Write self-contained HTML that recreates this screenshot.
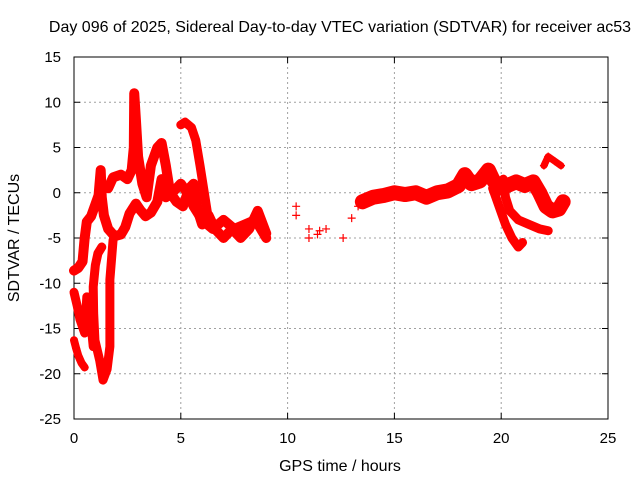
<!DOCTYPE html>
<html><head><meta charset="utf-8"><style>
body{margin:0;background:#fff;}
svg{display:block;font-family:"Liberation Sans",sans-serif;}
</style></head><body>
<svg id="chart" width="640" height="480">
<text x="340" y="32" font-size="16" text-anchor="middle">Day 096 of 2025, Sidereal Day-to-day VTEC variation (SDTVAR) for receiver ac53</text>
<text x="340" y="471" font-size="16" text-anchor="middle">GPS time / hours</text>
<text transform="translate(19,238) rotate(-90)" font-size="16" text-anchor="middle">SDTVAR / TECUs</text>
<g id="grid"></g>
<g id="axes"></g>
<g id="marks"></g>
</svg>
<script>
const xTicks=[0,5,10,15,20,25];
const yTicks=[15,10,5,0,-5,-10,-15,-20,-25];
const t1Hours=[0,0.2,0.4,0.5,0.6,0.8,1.0,1.15,1.25,1.3,1.4,1.6,1.9,2.2,2.4,2.6,2.9,3.1,3.35,3.6,3.9,4.1,4.3,4.6,5.0,5.3,5.6,6.0,6.5,7.0,7.5,8.0,8.5,9.0];
const t1Vals=[-8.6,-8.3,-7.6,-5,-3.2,-2.6,-1.3,-0.3,2.5,-0.5,-2.5,-4,-4.8,-4.6,-3.8,-2.3,-1.2,-1.9,-2.6,-2.2,-1,1.5,-0.5,0,1,0,-1.5,-3,-4,-3,-4,-3.5,-3,-5];
const t2Hours=[1.6,1.83,2.2,2.5,2.7,2.8,2.82,2.9,3.0,3.2,3.4,3.6,3.9,4.1,4.3,4.5,4.8,5.1,5.4,5.6,5.8,6.0,6.3,6.6,7.0,7.4,7.8,8.2,8.6,9.0];
const t2Vals=[0.5,1.7,2,1.5,2.5,5,11,8,4,1,-0.5,3,5,5.5,3,0,-1,-1.5,0.5,1,-2,-3.5,-2.5,-4,-5,-4,-5,-4,-2,-4.5];
const t3Hours=[5.0,5.2,5.5,5.7,5.9,6.1,6.3];
const t3Vals=[7.5,7.8,7.2,5.8,3,0,-3];
const t4Hours=[1.83,1.68,1.68,1.55,1.36,1.2,0.98,0.92,0.9,1.0,1.12,1.3];
const t4Vals=[-5.2,-9.6,-17,-19.5,-20.7,-18.5,-16.3,-13.3,-10.4,-8,-6.7,-6];
const t5Hours=[0,0.15,0.28,0.5,0.6,0.75,0.9];
const t5Vals=[-11,-12.5,-14,-15.5,-11.5,-13.3,-17];
const t6Hours=[0,0.1,0.2,0.35,0.5];
const t6Vals=[-16.3,-17.2,-18,-18.8,-19.3];
const t7Hours=[13.5,14,14.5,15,15.5,16,16.5,17,17.5,18,18.3,18.6,19,19.4,19.6,19.9,20.3,20.7,21.1,21.5,21.8,22.1,22.4,22.7,22.9];
const t7Vals=[-1,-0.5,-0.3,0,-0.2,0,-0.5,0,0.2,0.8,2,1,1.3,2.5,1.5,0.5,0.8,1.2,0.8,1.2,0,-1.5,-2,-1.8,-1];
const t8Hours=[19.6,19.9,20.2,20.5,20.8,21.0];
const t8Vals=[0.5,-1.5,-3.5,-5,-6,-5.5];
const t9Hours=[20.1,20.2,20.4,20.8,21.3,21.8,22.2];
const t9Vals=[1.5,-0.5,-2,-3,-3.5,-4,-4.2];
const t10Hours=[22.0,22.2,22.5,22.8];
const t10Vals=[3,4,3.5,3];
const t11Hours=[10.4,10.4,11.0,11.0,11.4,11.5,11.8,12.6,13.0,13.3];
const t11Vals=[-1.5,-2.5,-4,-5,-4.6,-4.2,-4,-5,-2.8,-1.5];
const tracks=[[t1Hours,t1Vals,10],[t2Hours,t2Vals,10],[t3Hours,t3Vals,9],[t4Hours,t4Vals,9],[t5Hours,t5Vals,9],[t6Hours,t6Vals,8],[t7Hours,t7Vals,15],[t8Hours,t8Vals,9],[t9Hours,t9Vals,9],[t10Hours,t10Vals,7],[t11Hours,t11Vals,0]];
const X0=74,X1=608,Y0=57,Y1=419;
const xs=h=>X0+(h-0)/25*(X1-X0);
const ys=v=>Y0+(15-v)/40*(Y1-Y0);
const NS='http://www.w3.org/2000/svg';
function mk(tag,attrs,parent){const e=document.createElementNS(NS,tag);for(const k in attrs)e.setAttribute(k,attrs[k]);parent.appendChild(e);return e;}
const grid=document.getElementById('grid'),axes=document.getElementById('axes'),marks=document.getElementById('marks');
xTicks.forEach(t=>{const x=xs(t);
 if(t>0&&t<25){const g=mk('line',{x1:x,x2:x,y1:Y0,y2:Y1,stroke:'#a0a0a0','stroke-dasharray':'2,3'},grid);
 
 }
 mk('line',{x1:x,x2:x,y1:Y1,y2:Y1-6,stroke:'#000'},axes);
 mk('line',{x1:x,x2:x,y1:Y0,y2:Y0+6,stroke:'#000'},axes);
 const l=mk('text',{x:x,y:443,'font-size':15,'text-anchor':'middle'},axes);l.textContent=t;
 
 
});
yTicks.forEach(t=>{const y=ys(t);
 if(t<15&&t>-25){const g=mk('line',{x1:X0,x2:X1,y1:y,y2:y,stroke:'#a0a0a0','stroke-dasharray':'2,3'},grid);
 
 }
 mk('line',{x1:X0,x2:X0+6,y1:y,y2:y,stroke:'#000'},axes);
 mk('line',{x1:X1,x2:X1-6,y1:y,y2:y,stroke:'#000'},axes);
 const l=mk('text',{x:61,y:y+5,'font-size':15,'text-anchor':'end'},axes);l.textContent=t;
 
 
});
mk('rect',{x:X0,y:Y0,width:X1-X0,height:Y1-Y0,fill:'none',stroke:'#000'},axes);
tracks.forEach(([hs,vs,w])=>{
 if(w){const pl=mk('polyline',{points:hs.map((h,i)=>xs(h)+','+ys(vs[i])).join(' '),fill:'none',stroke:'#ff0000','stroke-width':w,'stroke-linejoin':'round','stroke-linecap':'round'},marks);
 
 }
 hs.forEach((h,i)=>{const x=xs(h),y=ys(vs[i]);
  const p=mk('path',{d:`M${x-4},${y}H${x+4}M${x},${y-4}V${y+4}`,stroke:'#ff0000','stroke-width':1.2},marks);
  
  
 });
});
</script>
</body></html>
